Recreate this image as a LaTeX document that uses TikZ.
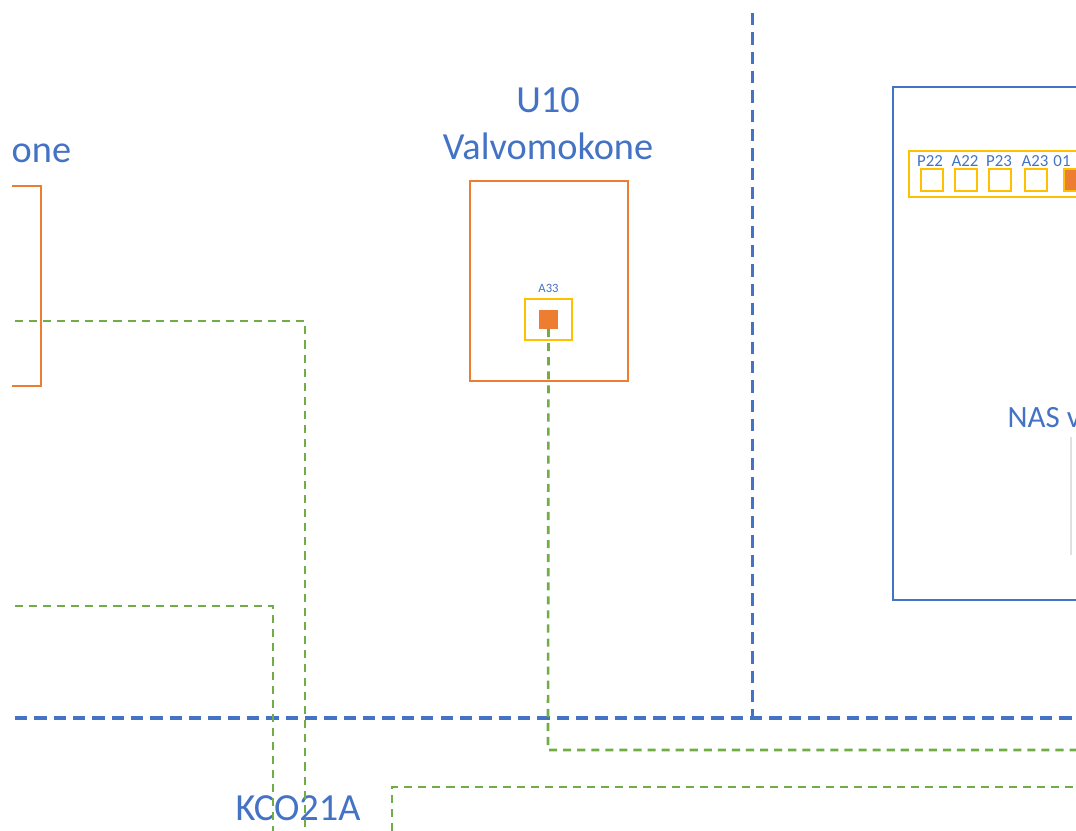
\documentclass[tikz,border=0pt]{standalone}
\usepackage{fontspec}
\setmainfont{Carlito}
\definecolor{ublue}{HTML}{4472C4}
\definecolor{uorange}{HTML}{ED7D31}
\definecolor{uyellow}{HTML}{FFC000}
\definecolor{ugreen}{HTML}{70AD47}
\tikzset{
  obox/.style={draw=uorange,line width=0.6pt,inner sep=0pt},
  bbox/.style={draw=ublue,line width=0.6pt,inner sep=0pt},
  ybox/.style={draw=uyellow,line width=0.65pt,inner sep=0pt},
  port/.style={draw=uyellow,line width=0.65pt,inner sep=0pt,minimum size=0.22cm},
  portfull/.style={port,fill=uorange},
  title/.style={text=ublue,font=\fontsize{10.9}{13.3}\selectfont,align=center,inner sep=0pt},
  plabel/.style={text=ublue,font=\fontsize{4.8}{6}\selectfont,inner sep=0pt},
  bus/.style={draw=ublue,line width=0.86pt,dash pattern=on 3.5pt off 2pt},
  sig/.style={draw=ugreen,line width=0.75pt,dash pattern=on 2.3pt off 1.7pt}
}
\begin{document}
\begin{tikzpicture}[x=0.01cm,y=-0.01cm]
\useasboundingbox (0,0) rectangle (1076,831);
\begin{scope}
\clip (12,0) rectangle (1076,831);

\node[obox,minimum width=1.58cm,minimum height=2.00cm] (lbox) at (-38,286) {};
\node[title,anchor=west] (lname) at (11,153) {one};

\node[obox,minimum width=1.58cm,minimum height=2.00cm] (u10) at (549,281) {};
\node[title] (u10name) at (548,124) {U10\\Valvomokone};
\node[ybox,minimum width=0.47cm,minimum height=0.41cm] (a33) at (548.5,319.5) {};
\node[obox,fill=uorange,minimum size=0.17cm] (a33in) at (548.5,319.5) {};
\node[plabel,font=\fontsize{3.6}{4}\selectfont] (a33lab) at (548.5,288) {A33};

\node[bbox,minimum width=4.2cm,minimum height=5.13cm,anchor=north west] (nas) at (892,86) {};
\node[ybox,minimum width=4.0cm,minimum height=0.46cm,anchor=west] (strip) at (908,174) {};
\node[port    ] (p22) at (932,180) {};
\node[port    ] (a22) at (966,180) {};
\node[port    ] (p23) at (1000,180) {};
\node[port    ] (a23) at (1036,180) {};
\node[portfull] (o01) at (1075,180) {};
\node[plabel] (p22lab) at (930,161) {P22};
\node[plabel] (a22lab) at (965,161) {A22};
\node[plabel] (p23lab) at (999,161) {P23};
\node[plabel] (a23lab) at (1035,161) {A23};
\node[plabel] (o01lab) at (1062,161) {01};
\node[title,font=\fontsize{8.8}{10}\selectfont,anchor=west] (nasname) at (1007,418) {NAS v};
\coordinate (g1) at (1071,437);
\coordinate (g2) at (1071,555);
\draw[black!12,line width=0.4pt] (g1) -- (g2);

\node[title] (kco) at (298,808) {KCO21A};

\coordinate (vtop) at (752,13);
\coordinate (vbot) at (752,718);
\coordinate (hleft) at (15,718);
\coordinate (hright) at (1076,718);
\draw[bus] (vtop) -- (vbot);
\draw[bus] (hleft) -- (hright);

\coordinate (s1) at (548,750);
\coordinate (s1e) at (1076,750);
\draw[sig] (a33in.south) -- (s1) -- (s1e);

\coordinate (s2a) at (15,321);
\coordinate (s2b) at (305,321);
\coordinate (s2c) at (305,831);
\draw[sig] (s2a) -- (s2b) -- (s2c);

\coordinate (s3a) at (15,606);
\coordinate (s3b) at (273,606);
\coordinate (s3c) at (273,831);
\draw[sig] (s3a) -- (s3b) -- (s3c);

\coordinate (s4a) at (392,831);
\coordinate (s4b) at (392,787);
\coordinate (s4c) at (1076,787);
\draw[sig] (s4a) -- (s4b) -- (s4c);
\end{scope}
\end{tikzpicture}
\end{document}
